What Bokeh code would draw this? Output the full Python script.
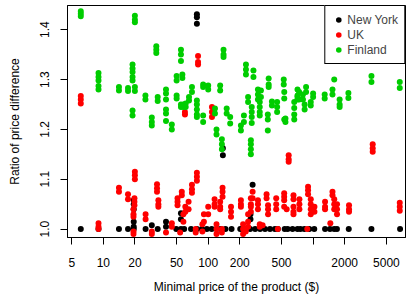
from bokeh.plotting import figure
from bokeh.models import Range1d, FixedTicker, BoxAnnotation
from bokeh.embed import file_html
from bokeh.resources import INLINE

# ---- data: minimal product price ($) and ratios observed at that price ----
ny_price = [6.1, 9.0, 14.1, 17.2, 19.5, 25.3, 29, 33, 39.6, 49.6, 55, 59, 68.6, 78,
            87, 97, 108, 120, 131, 138, 146, 167, 202, 226, 251, 253, 265, 280, 312,
            348, 388, 432, 461, 536, 572, 637, 710, 757, 826, 920, 1026, 1300, 1449,
            1590, 1687, 2187, 3597, 6745]
ny_ratios = [[1.0], [1.0], [1.0], [1.0], [1.058, 1.05, 1.04, 1.015, 1.005, 1.0], [1.0],
             [1.008], [1.0], [1.015, 1.005], [1.0], [1.032, 1.02, 1.0], [1.0], [1.0],
             [1.431, 1.425, 1.412, 1.0], [1.0], [1.0], [1.0], [1.0], [1.0], [1.162, 1.148],
             [1.0], [1.0], [1.0], [1.0], [1.0], [1.03, 1.02], [1.089], [1.0], [1.0],
             [1.0], [1.0], [1.0], [1.0], [1.0], [1.0], [1.0], [1.0], [1.0], [1.0], [1.0],
             [1.0], [1.0], [1.0], [1.0], [1.0], [1.0], [1.0], [1.0]]

uk_price = [6.1, 9.0, 14.1, 17.2, 20, 19.8, 19.4, 25.3, 29, 32.5, 33.5, 39.6, 45, 51, 56,
            54, 58, 60, 60.5, 65, 70, 76, 78, 80, 88, 91, 100, 108.6, 115, 120, 130, 137,
            135, 165, 205, 215, 228, 240, 255, 265, 298, 310, 330, 360, 372, 445, 461,
            530, 560, 585, 650, 740, 880, 895, 950, 1030, 1300, 1460, 1530, 1590, 1690,
            2200, 3700, 6700]
uk_ratios = [[1.267, 1.26, 1.252], [1.012, 1.005, 1.0], [1.083, 1.075], [1.07, 1.06],
             [1.115, 1.108, 1.1], [1.062, 1.055, 1.048], [1.04, 1.03, 1.025, 0.995, 0.99],
             [1.03, 1.02], [0.995, 0.99], [1.09, 1.082, 1.075], [1.058, 1.05, 1.045],
             [0.993], [1.012, 1.005], [1.062, 1.055, 1.048], [1.075, 1.068], [0.993],
             [1.03, 1.015], [1.235, 1.23], [1.045, 1.035], [1.055, 1.04],
             [1.089, 1.08, 1.073], [1.0, 0.993], [1.113, 1.105, 1.097],
             [1.347, 1.335, 1.33], [1.01, 0.995], [1.03, 1.015], [1.045, 1.03],
             [1.245, 1.235, 1.225], [1.06, 1.05, 1.045], [1.01, 1.0, 0.99],
             [1.055, 1.045, 1.04], [1.083, 1.075, 1.065], [1.0, 0.993],
             [1.045, 1.035, 1.025], [1.058, 1.05, 1.045], [1.01, 1.0, 0.99], [1.0, 0.995],
             [1.03, 1.015, 1.005], [1.062, 1.05, 1.045, 1.035], [1.075, 1.062],
             [1.058, 1.05, 1.04], [1.01, 1.005], [1.008], [1.07, 1.062],
             [1.048, 1.04, 1.03], [1.062, 1.05, 1.04], [1.0], [1.072, 1.065, 1.058, 1.045],
             [1.04], [1.148, 1.14, 1.135], [1.068, 1.06, 1.045, 1.035, 1.03],
             [1.06, 1.05, 1.04], [1.0], [1.085, 1.078, 1.07], [1.06, 1.05, 1.04, 1.03],
             [1.045, 1.035], [1.055, 1.045, 1.04], [1.012], [1.075, 1.068],
             [1.06, 1.05, 1.04], [1.05, 1.04, 1.03], [1.048, 1.04, 1.035],
             [1.17, 1.162, 1.155], [1.053, 1.045, 1.037]]

fi_price = [6.1, 9.0, 14.1, 17.2, 19, 20, 25.2, 29, 32, 33, 39.6, 45, 50, 55, 56.7, 58, 61,
            65.6, 70, 78, 89.5, 100, 116, 120, 135, 130, 140, 150, 162, 205, 219, 229, 240,
            255, 260, 270, 298, 310, 318, 370, 377, 405, 454, 525, 531, 545, 661, 710, 736,
            800, 830, 857, 950, 1000, 1290, 1530, 1590, 1790, 2170, 3600, 6700]
fi_ratios = [[1.437, 1.432, 1.427], [1.313, 1.305, 1.298, 1.287, 1.28], [1.285, 1.278],
             [1.283, 1.277], [1.33, 1.322, 1.315, 1.305, 1.298, 1.238, 1.228],
             [1.428, 1.42, 1.415, 1.285, 1.277], [1.268, 1.26], [1.224, 1.215, 1.208],
             [1.367, 1.36, 1.353], [1.265, 1.257], [1.28, 1.272, 1.26, 1.24, 1.232, 1.217],
             [1.21, 1.2], [1.307, 1.298, 1.268, 1.262], [1.36, 1.35, 1.337, 1.25, 1.245],
             [1.31, 1.303], [1.25, 1.245], [1.252, 1.245], [1.265, 1.258], [1.285, 1.275],
             [1.258, 1.25, 1.24, 1.23, 1.225], [1.29, 1.285, 1.228, 1.215], [1.288, 1.28],
             [1.242, 1.232], [1.2, 1.19], [1.18, 1.17, 1.16], [1.288, 1.278],
             [1.36, 1.35, 1.345], [1.242, 1.232], [1.225, 1.212], [1.208, 1.198],
             [1.228, 1.215], [1.33, 1.32, 1.31], [1.265, 1.255], [1.178, 1.17, 1.16, 1.15],
             [1.245, 1.235, 1.225, 1.213], [1.318, 1.305], [1.28, 1.27, 1.26],
             [1.255, 1.245, 1.235, 1.228], [1.278, 1.265], [1.23, 1.22, 1.198],
             [1.302, 1.29, 1.285], [1.256, 1.248], [1.255, 1.245, 1.235], [1.3, 1.29],
             [1.275, 1.262, 1.22], [1.222, 1.215], [1.255, 1.243, 1.23, 1.22],
             [1.28, 1.268, 1.265, 1.26], [1.275, 1.26], [1.27, 1.26], [1.25, 1.24],
             [1.285, 1.275], [1.255, 1.248], [1.272, 1.265], [1.27, 1.262], [1.28, 1.27],
             [1.3], [1.26, 1.25, 1.245], [1.273, 1.263], [1.307, 1.295], [1.295, 1.283]]

series_names = ["New York", "UK", "Finland"]
series_colors = ["#000000", "#FF0000", "#00CD00"]

x_ticks = [5, 10, 20, 50, 100, 200, 500, 1000, 2000, 5000]
x_tick_labels = ["5", "10", "20", "50", "100", "200", "500", "", "2000", "5000"]
y_ticks = [1.0, 1.1, 1.2, 1.3, 1.4]
y_tick_labels = ["1.0", "1.1", "1.2", "1.3", "1.4"]


def flatten(prices, ratios):
    xs, ys = [], []
    for p_, rs in zip(prices, ratios):
        for r in rs:
            xs.append(p_)
            ys.append(r)
    return xs, ys


FONT = "Liberation Sans"

p = figure(width=406, height=296, x_axis_type="log",
           x_range=Range1d(4.557, 7600), y_range=Range1d(0.9832, 1.4485),
           output_backend="svg", toolbar_location=None,
           min_border_left=67, min_border_right=1, min_border_top=5, min_border_bottom=58)

p.outline_line_color = "black"
p.outline_line_width = 1
p.xgrid.visible = False
p.ygrid.visible = False
p.background_fill_color = "white"
p.border_fill_color = "white"

data = [(ny_price, ny_ratios), (uk_price, uk_ratios), (fi_price, fi_ratios)]
for (pr, ra), name, col in zip(data, series_names, series_colors):
    xs, ys = flatten(pr, ra)
    p.scatter(xs, ys, size=6, color=col, line_color=None, legend_label=name)

# plot box (frame outline)
p.add_layout(BoxAnnotation(fill_alpha=0, fill_color=None, line_color="black",
                           line_width=1, line_alpha=1))

xa = p.xaxis[0]
xa.ticker = FixedTicker(ticks=x_ticks, minor_ticks=[])
xa.major_label_overrides = {float(t): l for t, l in zip(x_ticks, x_tick_labels)}
ya = p.yaxis[0]
ya.ticker = FixedTicker(ticks=y_ticks, minor_ticks=[])
ya.major_label_overrides = {float(t): l for t, l in zip(y_ticks, y_tick_labels)}
ya.major_label_orientation = "vertical"

p.xaxis.axis_label = "Minimal price of the product ($)"
p.yaxis.axis_label = "Ratio of price difference"
for ax in (xa, ya):
    ax.axis_line_color = "black"
    ax.major_tick_line_color = "black"
    ax.major_tick_out = 7
    ax.major_tick_in = 0
    ax.minor_tick_line_color = None
    ax.major_label_text_font = FONT
    ax.major_label_text_font_size = "12px"
    ax.major_label_text_color = "black"
    ax.axis_label_text_font = FONT
    ax.axis_label_text_font_size = "12px"
    ax.axis_label_text_font_style = "normal"
    ax.axis_label_text_color = "black"
xa.major_label_standoff = 13
xa.axis_label_standoff = 10
ya.major_label_standoff = 11
ya.axis_label_standoff = 16

lg = p.legend[0]
lg.location = "top_right"
lg.margin = 0
lg.padding = 6
lg.spacing = 0
lg.border_line_color = "black"
lg.border_line_width = 1
lg.border_line_alpha = 1
lg.background_fill_color = "white"
lg.background_fill_alpha = 1
lg.label_text_font = FONT
lg.label_text_font_size = "12px"
lg.label_height = 15
lg.glyph_height = 15
lg.glyph_width = 14
lg.label_standoff = 2

open("out.html", "w").write(file_html(p, INLINE))
